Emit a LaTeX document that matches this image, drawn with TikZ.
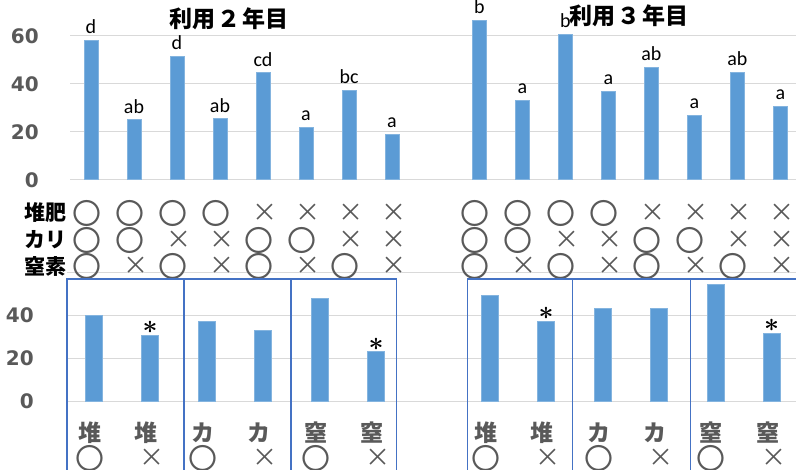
\documentclass[tikz,border=0pt]{standalone}
\usepackage{fontspec}
\setmainfont{DejaVu Sans}
\newfontfamily\jpfont{Noto Sans CJK JP}
\newfontfamily\numfont{DejaVu Sans}
\newfontfamily\letfont{Carlito}
\usetikzlibrary{positioning}
\definecolor{barblue}{HTML}{5B9BD5}
\definecolor{axisgray}{HTML}{595959}
\definecolor{gridgray}{HTML}{D9D9D9}
\definecolor{boxblue}{HTML}{4472C4}
\newcommand\symo{\fontsize{29}{29}\selectfont 〇}
\newcommand\symx{×}

\begin{document}
\begin{tikzpicture}[x=1pt,y=-1pt,
    bar/.style={fill=barblue,draw=barblue!75!white,line width=0.6pt,anchor=south,inner sep=0pt},
    gridln/.style={draw=gridgray,line width=1pt},
    ylab/.style={text=axisgray,font=\numfont\bfseries\fontsize{20}{20}\selectfont,anchor=east,inner sep=0pt},
    sig/.style={font=\letfont\fontsize{20}{20}\selectfont,inner sep=0pt},
    star/.style={inner sep=0pt},
    ttl/.style={font=\jpfont\bfseries\fontsize{23}{23}\selectfont},
    rowlab/.style={font=\jpfont\bfseries\fontsize{21}{21}\selectfont},
    mk/.style={text=axisgray,font=\jpfont\fontsize{25}{25}\selectfont,inner sep=0pt},
    mko/.style={xshift=-4pt},
    mkx/.style={xshift=2pt},
    sublab/.style={text=axisgray,font=\jpfont\bfseries\fontsize{23}{23}\selectfont,inner sep=0pt},
    grp/.style={draw=boxblue,line width=1.2pt}]

  \useasboundingbox (0,0) rectangle (796,470);
  \clip (0,0) rectangle (796,470);

  % grid of both charts
  \foreach \v in {0,20,40,60} {
    \draw[gridln] (70,{180-2.4*\v}) -- (796,{180-2.4*\v});
    \draw[gridln] (67,{401.7-2.15*\v}) -- (796,{401.7-2.15*\v});
  }
  \foreach \v in {0,20,40,60} \node[ylab] (ya\v) at (39,{180-2.4*\v}) {\v};
  \foreach \v in {0,20,40} \node[ylab] (yb\v) at (34,{401.7-2.15*\v}) {\v};

  % titles
  \node[ttl] (t2) at (229,19) {利用\hspace{0.1em}２\hspace{0.1em}年目};
  \node[ttl] (t3) at (629,16) {利用\hspace{0.1em}３\hspace{0.1em}年目};

  % upper bars, year 2 and year 3
  \foreach \v/\s [count=\i] in {58/d,25/ab,51.3/d,25.4/ab,44.6/cd,21.8/a,37.4/bc,19/a} {
    \node[bar,minimum width=14pt,minimum height={2.4*\v pt}] (p2-\i) at ({48+43*\i},180) {};
    \node[sig,above=6pt of p2-\i] (s2-\i) {\s};
  }
  \foreach \v/\s [count=\i] in {66.3/b,33.2/a,60.7/b,36.7/a,46.7/ab,26.9/a,44.9/ab,30.5/a} {
    \node[bar,minimum width=14pt,minimum height={2.4*\v pt}] (p3-\i) at ({436.3+43*\i},180) {};
    \node[sig,above=6pt of p3-\i] (s3-\i) {\s};
  }

  % fertilizer table
  \node[rowlab] (r1) at (45,213) {堆肥};
  \node[rowlab] (r2) at (45,240) {カリ};
  \node[rowlab] (r3) at (45,266) {窒素};
  \foreach \xo/\yr in {48/2,436.3/3} {
    \foreach \m [count=\i] in {o,o,o,o,x,x,x,x}
      \node[mk,mk\m] (k\yr a\i) at ({\xo+43*\i},213) {\csname sym\m\endcsname};
    \foreach \m [count=\i] in {o,o,x,x,o,o,x,x}
      \node[mk,mk\m] (k\yr b\i) at ({\xo+43*\i},240) {\csname sym\m\endcsname};
    \foreach \m [count=\i] in {o,x,o,x,o,x,o,x}
      \node[mk,mk\m] (k\yr c\i) at ({\xo+43*\i},266) {\csname sym\m\endcsname};
  }

  % main effect groups
  \draw[grp] (67,279) rectangle (184,480);
  \draw[grp] (184,279) rectangle (291,480);
  \draw[grp] (291,279) rectangle (396.7,480);
  \draw[grp] (467.3,279) rectangle (572.7,480);
  \draw[grp] (572.7,279) rectangle (690.7,480);
  \draw[grp] (690.7,279) rectangle (800,480);

  \foreach \v/\c/\m [count=\i] in {39.9/堆/o,30.7/堆/x,37.4/カ/o,33.3/カ/x,47.8/窒/o,23.1/窒/x} {
    \node[bar,minimum width=17pt,minimum height={2.15*\v pt}] (q2-\i) at ({37.2+56.5*\i},401.7) {};
    \node[sublab,mko] (c2-\i) at ({37.2+56.5*\i},433) {\c};
    \node[mk,mk\m] (d2-\i) at ({37.2+56.5*\i},458) {\csname sym\m\endcsname};
  }
  \foreach \v/\c/\m [count=\i] in {49.2/堆/o,37.4/堆/x,43.3/カ/o,43.1/カ/x,54.6/窒/o,31.8/窒/x} {
    \node[bar,minimum width=17pt,minimum height={2.15*\v pt}] (q3-\i) at ({433.3+56.4*\i},401.7) {};
    \node[sublab,mko] (c3-\i) at ({433.3+56.4*\i},433) {\c};
    \node[mk,mk\m] (d3-\i) at ({433.3+56.4*\i},458) {\csname sym\m\endcsname};
  }
  \foreach \b in {q2-2,q2-6,q3-2,q3-6}
    \node[star,above=1pt of \b] (st-\b) {\scalebox{2.6}{\boldmath$\ast$}};
\end{tikzpicture}
\end{document}
